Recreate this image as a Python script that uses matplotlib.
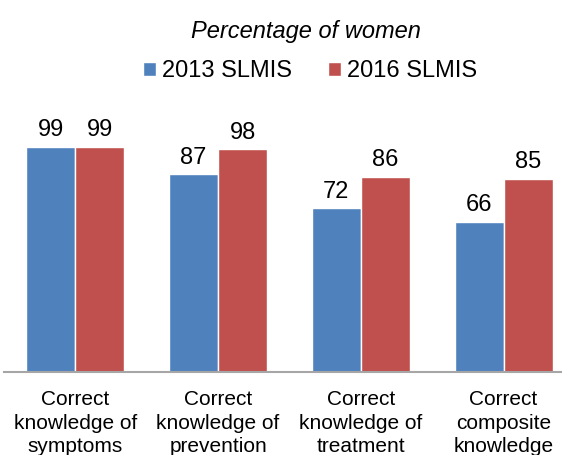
import matplotlib
matplotlib.use("Agg")
import matplotlib.pyplot as plt
import numpy as np

categories = ["Correct\nknowledge of\nsymptoms", "Correct\nknowledge of\nprevention",
              "Correct\nknowledge of\ntreatment", "Correct\ncomposite\nknowledge"]
series_names = ["2013 SLMIS", "2016 SLMIS"]
values_2013 = [99, 87, 72, 66]
values_2016 = [99, 98, 86, 85]
colors = ["#4F81BD", "#C0504D"]

plt.rcParams['font.family'] = ['Liberation Sans', 'DejaVu Sans']

fig = plt.figure(figsize=(5.62, 4.55), dpi=100)
ax = fig.add_axes([4/562, 1-372/455, 571/562, 227.3/455])

x = np.arange(len(categories))
w = 0.343
b1 = ax.bar(x - w/2, values_2013, w, color=colors[0], edgecolor='white', linewidth=1.0, label=series_names[0])
b2 = ax.bar(x + w/2, values_2016, w, color=colors[1], edgecolor='white', linewidth=1.0, label=series_names[1])

for bars in (b1, b2):
    for r in bars:
        ax.annotate(f"{r.get_height():.0f}", (r.get_x() + r.get_width()/2, r.get_height()),
                    xytext=(0, 4), textcoords='offset points', ha='center', va='bottom', fontsize=17)

ax.set_xlim(-0.5, len(categories) - 0.5)
ax.set_ylim(0, 100)
ax.set_xticks(x)
ax.set_xticklabels(categories, fontsize=15, linespacing=1.3)
ax.tick_params(axis='x', length=0, pad=13)
ax.set_yticks([])
for s in ['top', 'right', 'left']:
    ax.spines[s].set_visible(False)
ax.spines['bottom'].set_color('#A6A6A6')
ax.spines['bottom'].set_linewidth(1.5)

fig.text(306/562, 1-38/455, "Percentage of women", ha='center', va='baseline', fontsize=17, style='italic')
fig.legend(handles=[b1, b2], labels=series_names, loc='center', bbox_to_anchor=(310/562, 1-71/455),
           ncol=2, frameon=False, fontsize=17, handlelength=0.55, handleheight=0.55,
           handletextpad=0.25, columnspacing=1.5)

fig.savefig("out.png", dpi=100)
